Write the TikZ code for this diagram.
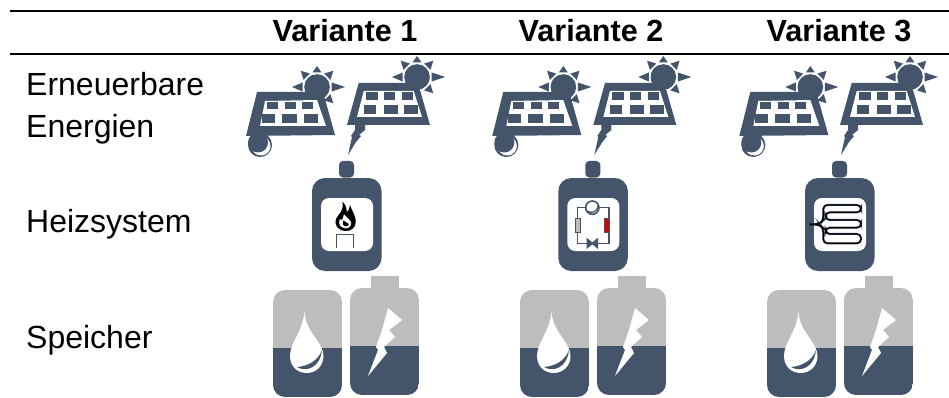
\documentclass[tikz,border=0pt]{standalone}
\usepackage{fontspec}
\setmainfont{Liberation Sans}
\definecolor{slate}{HTML}{44546A}
\definecolor{ash}{HTML}{BDBDBD}
\tikzset{
  rowlabel/.style={anchor=base west,inner sep=0pt,font=\fontsize{32}{36}\selectfont,align=left},
  headlabel/.style={anchor=base,inner sep=0pt,font=\fontsize{30.6}{36}\selectfont\bfseries},
  rulerline/.style={line width=2pt,black},
  zoomed/.style={x=0.3333pt,y=-0.3333pt},
}
\newcommand{\sunrays}[2]{%
  \begin{scope}[shift={(#1,#2)}]
  \fill[slate] (0,0) circle (12.8);
  \foreach \a/\t in {0/28,45/23,90/21,135/23,180/25,-45/23}{
    \fill[slate] ({14.5*cos(\a)-4.5*sin(\a)},{-(14.5*sin(\a)+4.5*cos(\a))})
      -- ({\t*cos(\a)},{-\t*sin(\a)})
      -- ({14.5*cos(\a)+4.5*sin(\a)},{-(14.5*sin(\a)-4.5*cos(\a))}) -- cycle;
  }
  \end{scope}%
}
\newcommand{\panelone}[2]{%
  \begin{scope}[shift={(#1,#2)}]
    \fill[slate] (0,0) -- (11,-44) -- (77,-44) -- (89,-1) -- cycle;
    \fill[white] (19,-35) -- (71,-36) -- (80,-10) -- (14,-10) -- cycle;
    \foreach \x/\w in {21/10.5,38.5/11,55.5/11.5}{\fill[slate] (\x,-33.5) rectangle ++(\w,6.5);}
    \foreach \x/\w in {16/13,36/14.5,58/14}{\fill[slate] (\x,-22) rectangle ++(\w,9);}
    \sunrays{71}{-49}
    \fill[slate] (14,9) circle (12);
    \fill[white] (15,10) circle (9.5);
    \fill[slate] (12,6.5) circle (10);
  \end{scope}%
}
\newcommand{\paneltwo}[2]{%
  \begin{scope}[shift={(#1,#2)}]
    \fill[slate] (0,0) -- (11.7,-42) -- (71,-42) -- (83,0) -- cycle;
    \fill[white] (16.7,-34) -- (66.7,-34) -- (75,-8) -- (10,-8) -- cycle;
    \foreach \x/\w in {18.5/12,37/11,55/11}{\fill[slate] (\x,-32.5) rectangle ++(\w,8);}
    \foreach \x/\w in {16.5/12.5,36.5/14,57/14}{\fill[slate] (\x,-20) rectangle ++(\w,9);}
    \sunrays{70}{-48}
    \fill[slate] (8,-1) -- (18,-1) -- (18,5) -- (12,10) -- (14,11) -- (9,17) -- (1,30) -- (5,12) -- (4,11) -- (8,5) -- cycle;
  \end{scope}%
}
\newcommand{\heater}[1]{%
  \fill[slate,rounded corners=4] (#1+27,161) rectangle (#1+42,177.5);
  \fill[slate,rounded corners=13] (#1,178) rectangle (#1+69.5,271);
  \fill[white,rounded corners=8] (#1+9,198) rectangle (#1+61,251);
}
\newcommand{\dropbat}[1]{%
  \begin{scope}[shift={(#1,0)}]
  \begin{scope}
    \clip[rounded corners=12] (0,290) rectangle (69,397);
    \fill[ash] (0,290) rectangle (69,348);
    \fill[slate] (0,348) rectangle (69,397);
  \end{scope}
  \fill[white] (31.5,311) .. controls (32,332) and (50.5,342) .. (50.5,356)
     .. controls (50.5,366) and (43,373) .. (33.7,373)
     .. controls (24,373) and (17,366) .. (17,356)
     .. controls (17,342) and (30,332) .. (31.5,311) -- cycle;
  \fill[slate] (24,367) .. controls (33,372.5) and (47,368) .. (49,350)
     .. controls (45,361) and (35,366) .. (24,367) -- cycle;
  \end{scope}%
}
\newcommand{\boltbat}[1]{%
  \begin{scope}[shift={(#1,0)}]
  \fill[ash] (21,276) rectangle (49,290);
  \begin{scope}
    \clip[rounded corners=12] (0,288) rectangle (69,395);
    \fill[ash] (0,288) rectangle (69,346);
    \fill[slate] (0,346) rectangle (69,395);
  \end{scope}
  \fill[white] (38,308) -- (52,320) -- (39,330) -- (45,337) -- (34,347) -- (37,353) -- (18,376) -- (28,350) -- (26,347) -- (32,330) -- cycle;
  \end{scope}%
}
\begin{document}
\begin{tikzpicture}[x=1pt,y=-1pt]
\useasboundingbox (0,0) rectangle (949,398);
\fill[white] (0,0) rectangle (949,398);
\coordinate (r1a) at (10,11); \coordinate (r1b) at (949,11);
\coordinate (r2a) at (10,54.3); \coordinate (r2b) at (949,54.3);
\draw[rulerline] (r1a) -- (r1b);
\draw[rulerline] (r2a) -- (r2b);
\node[headlabel] (h1) at (345,42) {Variante 1};
\node[headlabel] (h2) at (591,42) {Variante 2};
\node[headlabel] (h3) at (839,42) {Variante 3};
\node[rowlabel] (l1) at (26,96) {Erneuerbare};
\node[rowlabel] (l2) at (26,138) {Energien};
\node[rowlabel] (l3) at (26,232) {Heizsystem};
\node[rowlabel] (l4) at (26,348) {Speicher};
\panelone{246}{136}\paneltwo{347}{125}
\panelone{492.3}{136}\paneltwo{593.3}{125}
\panelone{739.3}{136}\paneltwo{840}{125}
\heater{312}\heater{558.3}\heater{805}
% burner
\begin{scope}[shift={(290,155)},zoomed]
  \fill[black] (168,228) .. controls (145,228) and (130,210) .. (139,190)
    .. controls (146,176) and (163,168) .. (157,140)
    .. controls (170,150) and (170,165) .. (170,172)
    .. controls (175,168) and (180,160) .. (180,150)
    .. controls (186,170) and (198,180) .. (197,203)
    .. controls (196,218) and (185,228) .. (168,228) -- cycle;
  \fill[white] (165,220) .. controls (150,218) and (143,205) .. (150,192)
    .. controls (155,198) and (158,195) .. (162,178)
    .. controls (172,190) and (190,200) .. (182,212)
    .. controls (178,218) and (172,221) .. (165,220) -- cycle;
  \fill[black] (167,214) .. controls (158,212) and (156,204) .. (160,196)
    .. controls (166,204) and (178,204) .. (176,209)
    .. controls (174,212) and (171,215) .. (167,214) -- cycle;
  \draw[slate,line width=1.4pt] (140,278) -- (140,238) -- (190,238) -- (190,278);
\end{scope}
% heat pump
\begin{scope}[shift={(540,155)},zoomed]
  \draw[slate,line width=1.6pt] (112,158) rectangle (207,265);
  \filldraw[fill=white,draw=slate,line width=1.6pt] (157,158) circle (20);
  \draw[slate,line width=1.3pt] (140,168) .. controls (155,175) and (170,175) .. (175,150);
  \filldraw[fill=ash,draw=slate,line width=1.2pt] (106,191) rectangle (121,233);
  \filldraw[fill=red!85!black,draw=slate,line width=1.2pt] (194,191) rectangle (208,233);
  \fill[slate] (140,248) -- (157,262) -- (174,248) -- (174,282) -- (157,268) -- (140,282) -- cycle;
\end{scope}
% floor coil
\begin{scope}[shift={(790,155)},zoomed]
  \draw[slate,line width=2pt,rounded corners=4pt] (58,207) -- (90,207) -- (100,195) -- (100,150) -- (213,150) -- (213,172) -- (107,172) -- (107,195) -- (213,195) -- (213,218) -- (107,218) -- (107,237) -- (213,237) -- (213,265) -- (100,265) -- (100,220) -- (90,209) -- (58,209);
  \draw[black,line width=1.2pt,rounded corners=4pt] (58,207) -- (90,207) -- (100,195) -- (100,150) -- (213,150) -- (213,172) -- (107,172) -- (107,195) -- (213,195) -- (213,218) -- (107,218) -- (107,237) -- (213,237) -- (213,265) -- (100,265) -- (100,220) -- (90,209) -- (58,209);
\end{scope}
\dropbat{273}\boltbat{350}
\dropbat{520}\boltbat{597}
\dropbat{767}\boltbat{844}
\end{tikzpicture}
\end{document}
